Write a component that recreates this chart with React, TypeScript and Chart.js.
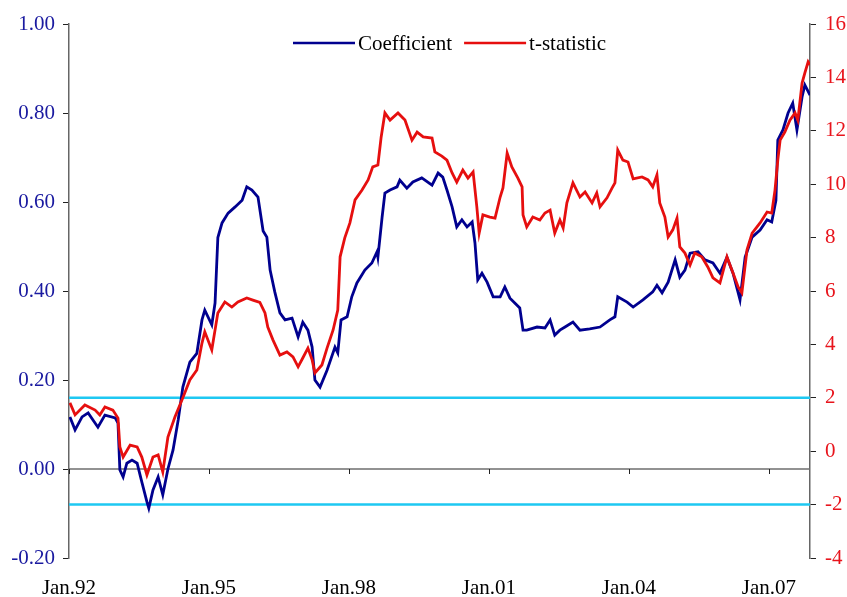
import React, { useEffect, useRef } from "react";
import { Chart, registerables } from "chart.js";

Chart.register(...registerables);

// ---- Data ----
const coefYears = [
  1992.02, 1992.13, 1992.28, 1992.41, 1992.62, 1992.77, 1992.99, 1993.05, 1993.09, 1993.16,
  1993.24, 1993.35, 1993.46, 1993.56, 1993.67, 1993.71, 1993.8, 1993.91, 1994.01, 1994.12,
  1994.23, 1994.34, 1994.44, 1994.59, 1994.74, 1994.85, 1994.91, 1995.06, 1995.13, 1995.19,
  1995.28, 1995.41, 1995.56, 1995.71, 1995.81, 1995.92, 1996.05, 1996.16, 1996.24, 1996.31,
  1996.41, 1996.52, 1996.63, 1996.78, 1996.91, 1997.01, 1997.12, 1997.21, 1997.27, 1997.38,
  1997.53, 1997.7, 1997.76, 1997.83, 1997.96, 1998.06, 1998.17, 1998.34, 1998.49, 1998.6,
  1998.62, 1998.71, 1998.77, 1998.88, 1999.03, 1999.09, 1999.24, 1999.37, 1999.56, 1999.78,
  1999.91, 2000.01, 2000.1, 2000.21, 2000.31, 2000.42, 2000.53, 2000.64, 2000.7, 2000.76,
  2000.85, 2000.96, 2001.09, 2001.24, 2001.34, 2001.45, 2001.66, 2001.73, 2001.81, 2002.03,
  2002.2, 2002.31, 2002.41, 2002.52, 2002.63, 2002.8, 2002.95, 2003.16, 2003.38, 2003.59,
  2003.7, 2003.76, 2003.96, 2004.09, 2004.3, 2004.51, 2004.6, 2004.71, 2004.84, 2004.99,
  2005.09, 2005.2, 2005.31, 2005.48, 2005.63, 2005.8, 2005.95, 2006.1, 2006.23, 2006.38,
  2006.49, 2006.64, 2006.81, 2006.96, 2007.06, 2007.15, 2007.19, 2007.3, 2007.41, 2007.51,
  2007.6, 2007.71, 2007.77, 2007.88,
];
const coefValues = [
  0.117, 0.088, 0.117, 0.126, 0.094, 0.121, 0.115, 0.103, -0.002, -0.018,
  0.013, 0.02, 0.013, -0.029, -0.074, -0.088, -0.047, -0.018, -0.058, 0.0,
  0.043, 0.11, 0.184, 0.24, 0.26, 0.335, 0.357, 0.324, 0.373, 0.52,
  0.553, 0.575, 0.589, 0.604, 0.634, 0.627, 0.611, 0.535, 0.521, 0.447,
  0.398, 0.351, 0.335, 0.339, 0.297, 0.33, 0.312, 0.274, 0.2, 0.184,
  0.222, 0.274, 0.261, 0.335, 0.342, 0.387, 0.418, 0.447, 0.463, 0.488,
  0.476, 0.566, 0.62, 0.627, 0.634, 0.649, 0.631, 0.645, 0.654, 0.638,
  0.665, 0.656, 0.627, 0.589, 0.544, 0.56, 0.544, 0.555, 0.508, 0.425,
  0.44, 0.42, 0.387, 0.387, 0.409, 0.384, 0.362, 0.312, 0.312, 0.319,
  0.317, 0.335, 0.301, 0.312, 0.319, 0.33, 0.312, 0.315, 0.319, 0.335,
  0.342, 0.387, 0.375, 0.364, 0.38, 0.398, 0.413, 0.396, 0.42, 0.47,
  0.431, 0.447, 0.485, 0.488, 0.47, 0.463, 0.44, 0.476, 0.44, 0.38,
  0.476, 0.521, 0.537, 0.56, 0.555, 0.604, 0.739, 0.762, 0.8, 0.822,
  0.762, 0.836, 0.863, 0.84,
];

const tYears = [
  1992.02, 1992.13, 1992.34, 1992.56, 1992.66, 1992.77, 1992.94, 1993.05, 1993.09, 1993.16,
  1993.31, 1993.46, 1993.56, 1993.67, 1993.8, 1993.91, 1994.01, 1994.12, 1994.27, 1994.44,
  1994.59, 1994.74, 1994.85, 1994.91, 1995.06, 1995.19, 1995.34, 1995.49, 1995.62, 1995.81,
  1995.94, 1996.09, 1996.2, 1996.26, 1996.37, 1996.52, 1996.67, 1996.8, 1996.91, 1997.01,
  1997.12, 1997.21, 1997.27, 1997.42, 1997.53, 1997.66, 1997.76, 1997.81, 1997.91, 1998.02,
  1998.13, 1998.28, 1998.41, 1998.51, 1998.62, 1998.69, 1998.77, 1998.88, 1999.05, 1999.2,
  1999.35, 1999.46, 1999.59, 1999.78, 1999.84, 1999.99, 2000.1, 2000.21, 2000.31, 2000.44,
  2000.55, 2000.66, 2000.74, 2000.79, 2000.87, 2001.02, 2001.13, 2001.24, 2001.3, 2001.39,
  2001.49, 2001.62, 2001.71, 2001.73, 2001.81, 2001.94, 2002.09, 2002.2, 2002.31, 2002.41,
  2002.52, 2002.59, 2002.67, 2002.8, 2002.95, 2003.06, 2003.21, 2003.31, 2003.38, 2003.53,
  2003.64, 2003.7, 2003.76, 2003.87, 2003.98, 2004.09, 2004.28, 2004.41, 2004.51, 2004.6,
  2004.66, 2004.77, 2004.84, 2004.94, 2005.03, 2005.09, 2005.2, 2005.31, 2005.41, 2005.56,
  2005.69, 2005.8, 2005.95, 2006.1, 2006.23, 2006.34, 2006.42, 2006.53, 2006.64, 2006.81,
  2006.96, 2007.06, 2007.13, 2007.19, 2007.24, 2007.34, 2007.45, 2007.56, 2007.62, 2007.71,
  2007.77, 2007.84, 2007.88,
];
const tValues = [
  1.81, 1.36, 1.73, 1.54, 1.36, 1.66, 1.54, 1.24, 0.16, -0.22,
  0.23, 0.16, -0.22, -0.89, -0.22, -0.14, -0.78, 0.53, 1.28, 2.0,
  2.67, 3.04, 4.05, 4.47, 3.79, 5.18, 5.59, 5.4, 5.59, 5.74,
  5.66, 5.57, 5.18, 4.65, 4.17, 3.6, 3.72, 3.53, 3.16, 3.49,
  3.86, 3.42, 2.93, 3.23, 3.86, 4.54, 5.29, 7.28, 7.99, 8.55,
  9.41, 9.78, 10.16, 10.65, 10.72, 11.77, 12.67, 12.4, 12.67, 12.4,
  11.65, 11.95, 11.77, 11.73, 11.21, 11.05, 10.9, 10.42, 10.08, 10.53,
  10.23, 10.46, 9.15, 8.17, 8.85, 8.77, 8.73, 9.52, 9.86, 11.17,
  10.65, 10.23, 9.9, 8.85, 8.4, 8.77, 8.66, 8.92, 9.03, 8.17,
  8.66, 8.36, 9.3, 10.05, 9.52, 9.71, 9.3, 9.67, 9.15, 9.49,
  9.86, 10.05, 11.28, 10.9, 10.83, 10.2, 10.27, 10.16, 9.9, 10.35,
  9.3, 8.77, 8.02, 8.29, 8.73, 7.65, 7.42, 6.97, 7.42, 7.28,
  6.9, 6.49, 6.3, 7.28, 6.67, 6.15, 5.93, 7.54, 8.17, 8.55,
  8.96, 8.92, 9.78, 10.9, 11.65, 11.95, 12.4, 12.67, 12.4, 13.79,
  14.17, 14.58, 14.47,
];

const criticalValues = [2, -2];
const tickYears = [1992, 1995, 1998, 2001, 2004, 2007];
const tickLabels = ["Jan.92", "Jan.95", "Jan.98", "Jan.01", "Jan.04", "Jan.07"];
const xMin = 1992;
const xMax = 2007.88;

const seriesNames = ["Coefficient", "t-statistic"];
const BLUE = "#00008f";
const RED = "#e60f0f";
const CYAN = "#1ec8f2";
const FONT = '"Liberation Serif", "Times New Roman", serif';
const FS = 21;

export default function App() {
  const ref = useRef<HTMLCanvasElement | null>(null);

  useEffect(() => {
    const canvas = ref.current;
    if (!canvas) return;

    const zeroAxisPlugin = {
      id: "zeroAxis",
      beforeDatasetsDraw(chart: any) {
        const { ctx, chartArea, scales } = chart;
        const y0 = scales.y.getPixelForValue(0);
        ctx.save();
        ctx.strokeStyle = "#6e6e6e";
        ctx.lineWidth = 1.5;
        ctx.beginPath();
        ctx.moveTo(chartArea.left, y0);
        ctx.lineTo(chartArea.right, y0);
        ctx.stroke();
        ctx.strokeStyle = "#222";
        ctx.lineWidth = 1;
        tickYears.forEach((v) => {
          const x = Math.round(scales.x.getPixelForValue(v)) + 0.5;
          ctx.beginPath();
          ctx.moveTo(x, y0);
          ctx.lineTo(x, y0 + 5);
          ctx.stroke();
        });
        ctx.restore();
      },
      afterDraw(chart: any) {
        const { ctx, chartArea } = chart;
        ctx.save();
        ctx.font = `${FS}px ${FONT}`;
        ctx.textBaseline = "middle";
        ctx.fillStyle = "#000";
        let x = chartArea.left + 224;
        const y = chartArea.top + 19;
        const colors = [BLUE, RED];
        seriesNames.forEach((name, i) => {
          ctx.strokeStyle = colors[i];
          ctx.lineWidth = 2.5;
          ctx.beginPath();
          ctx.moveTo(x, y);
          ctx.lineTo(x + 62, y);
          ctx.stroke();
          x += 65;
          ctx.fillText(name, x, y + 1);
          x += ctx.measureText(name).width + 12;
        });
        ctx.restore();
      },
    };

    const chart = new Chart(canvas, {
      type: "line",
      data: {
        datasets: [
          {
            label: seriesNames[1],
            data: tYears.map((x, i) => ({ x, y: tValues[i] })),
            borderColor: RED,
            backgroundColor: RED,
            borderWidth: 2.8,
            pointRadius: 0,
            tension: 0,
            yAxisID: "y2",
            order: 0,
          },
          {
            label: seriesNames[0],
            data: coefYears.map((x, i) => ({ x, y: coefValues[i] })),
            borderColor: BLUE,
            backgroundColor: BLUE,
            borderWidth: 2.8,
            pointRadius: 0,
            tension: 0,
            yAxisID: "y",
            order: 1,
          },
          ...criticalValues.map((c) => ({
            label: `crit ${c}`,
            data: [
              { x: xMin, y: c },
              { x: xMax, y: c },
            ],
            borderColor: CYAN,
            backgroundColor: CYAN,
            borderWidth: 2.5,
            pointRadius: 0,
            tension: 0,
            yAxisID: "y2",
            order: 2,
          })),
        ],
      },
      options: {
        animation: false,
        responsive: false,
        maintainAspectRatio: false,
        layout: { padding: { top: 24, left: 0, right: 0, bottom: 0 } },
        plugins: {
          legend: { display: false },
          tooltip: { enabled: false },
        },
        scales: {
          x: {
            type: "linear",
            min: xMin,
            max: xMax,
            position: "bottom",
            border: { display: false },
            grid: { display: false, drawTicks: false },
            afterBuildTicks: (s: any) => {
              s.ticks = tickYears.map((v) => ({ value: v }));
            },
            afterFit: (s: any) => {
              s.height = 39;
            },
            ticks: {
              autoSkip: false,
              maxRotation: 0,
              minRotation: 0,
              padding: 18,
              color: "#000",
              font: { family: FONT, size: FS },
              callback: (v: any) => {
                const i = tickYears.indexOf(Number(v));
                return i >= 0 ? tickLabels[i] : "";
              },
            },
          },
          y: {
            type: "linear",
            position: "left",
            min: -0.2,
            max: 1.0,
            border: { display: true, color: "#666", width: 1.5 },
            grid: {
              display: true,
              drawOnChartArea: false,
              drawTicks: true,
              tickLength: 6,
              color: "#222",
            },
            afterFit: (s: any) => {
              s.width = 69;
            },
            ticks: {
              stepSize: 0.2,
              padding: 8,
              color: "#1a1aa0",
              font: { family: FONT, size: FS },
              callback: (v: any) => {
                const n = Number(v);
                return (Math.abs(n) < 1e-9 ? 0 : n).toFixed(2);
              },
            },
          },
          y2: {
            type: "linear",
            position: "right",
            min: -4,
            max: 16,
            border: { display: true, color: "#666", width: 1.5 },
            grid: {
              display: true,
              drawOnChartArea: false,
              drawTicks: true,
              tickLength: 6,
              color: "#222",
            },
            afterFit: (s: any) => {
              s.width = 37;
            },
            ticks: {
              stepSize: 2,
              padding: 9,
              color: "#e8141c",
              font: { family: FONT, size: FS },
              callback: (v: any) => String(Math.round(Number(v))),
            },
          },
        },
      },
      plugins: [zeroAxisPlugin],
    } as any);

    return () => chart.destroy();
  }, []);

  return (
    <div style={{ position: "absolute", left: 0, top: 0, width: 847, height: 597, background: "#fff" }}>
      <canvas ref={ref} width={847} height={597} style={{ display: "block" }} />
    </div>
  );
}
